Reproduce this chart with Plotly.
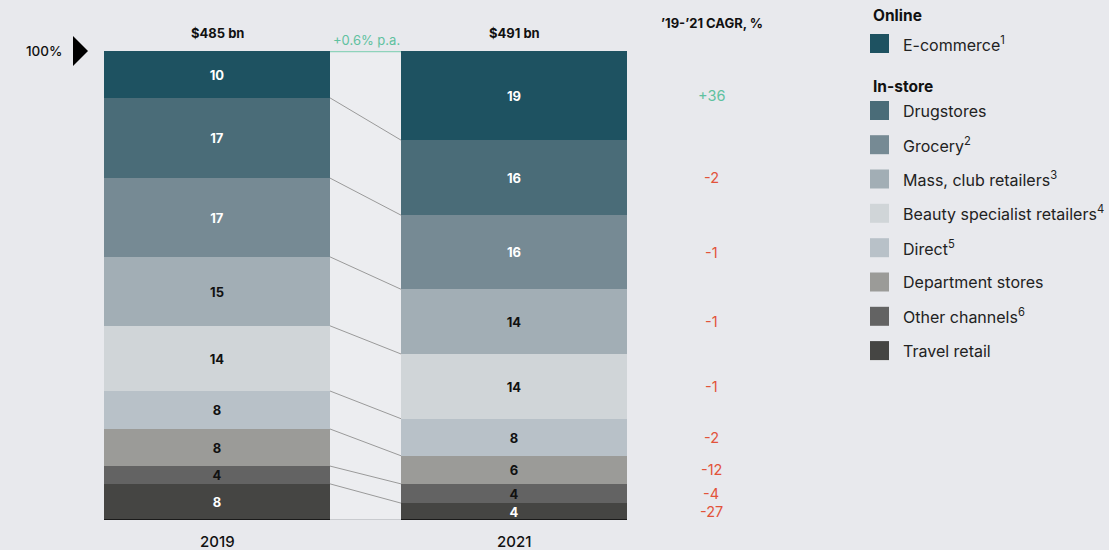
import plotly.graph_objects as go

# ---------------------------
# Data (shares in %, bottom -> top)
# ---------------------------
channels = ["Travel retail", "Other channels", "Department stores", "Direct",
            "Beauty specialist retailers", "Mass, club retailers", "Grocery",
            "Drugstores", "E-commerce"]
legend_labels = ["Travel retail", "Other channels<sup>6</sup>", "Department stores",
                 "Direct<sup>5</sup>", "Beauty specialist retailers<sup>4</sup>",
                 "Mass, club retailers<sup>3</sup>", "Grocery<sup>2</sup>",
                 "Drugstores", "E-commerce<sup>1</sup>"]
share_2019 = [7.7, 3.8, 7.9, 8.1, 13.9, 14.7, 16.8, 17.1, 10.0]
share_2021 = [3.6, 4.1, 6.0, 7.9, 13.8, 13.8, 15.8, 16.0, 19.0]
label_2019 = ["8", "4", "8", "8", "14", "15", "17", "17", "10"]
label_2021 = ["4", "4", "6", "8", "14", "14", "16", "16", "19"]
cagr = ["-27", "-4", "-12", "-2", "-1", "-1", "-1", "-2", "+36"]
years = ["2019", "2021"]
totals = ["$485 bn", "$491 bn"]
growth_label = "+0.6% p.a."

colors = ["#454543", "#636363", "#9b9b98", "#b8c1c8", "#d0d5d8",
          "#a2aeb5", "#768a94", "#4a6c78", "#1e5261"]
text_colors = ["white", "#111111", "#111111", "#111111", "#111111",
               "#111111", "white", "white", "white"]

BG = "#e8e9ed"
GREEN = "#5fc1a0"
RED = "#e2533a"
FONT = "Inter, Roboto, sans-serif"

# layout geometry (pixels)
W, H = 1109, 550
L, R, T, B = 104, 482, 51, 30
PW, PH = W - L - R, H - T - B
BAR_W = 0.761
X0 = -0.3805
X1 = X0 + PW / 297.0


def px(x):
    return (x - L) / PW


def py(y):
    return (H - B - y) / PH


def note(x, y, text, size, color="#111111", xanchor="center", weight=None):
    font = dict(family=FONT, size=size, color=color)
    if weight:
        font["weight"] = weight
    fig.add_annotation(xref="paper", yref="paper", x=px(x), y=py(y), text=text,
                       showarrow=False, xanchor=xanchor, yanchor="middle", font=font)


fig = go.Figure()

# gap between the bars, slightly lighter
fig.add_shape(type="rect", xref="x", yref="y", x0=BAR_W / 2, x1=1 - BAR_W / 2,
              y0=0, y1=100, fillcolor="#ecedf0", line_width=0, layer="below")

for i, ch in enumerate(channels):
    fig.add_trace(go.Bar(
        x=[0, 1], y=[share_2019[i], share_2021[i]],
        width=BAR_W, name=ch,
        marker=dict(color=colors[i], line_width=0),
        text=[label_2019[i], label_2021[i]],
        textposition="inside", insidetextanchor="middle", textangle=0,
        constraintext="none",
        textfont=dict(family=FONT, size=13, color=text_colors[i], weight="bold"),
        hoverinfo="name+y",
    ))

# connector lines between segment boundaries
c19, c21 = 0.0, 0.0
for i in range(len(channels) - 1):
    c19 += share_2019[i]
    c21 += share_2021[i]
    fig.add_shape(type="line", xref="x", yref="y",
                  x0=BAR_W / 2, x1=1 - BAR_W / 2, y0=c19, y1=c21,
                  line=dict(color="#9a9a9a", width=1))

# baseline
fig.add_shape(type="line", xref="x", yref="y", x0=-BAR_W / 2, x1=BAR_W / 2, y0=0, y1=0,
              line=dict(color="#1a1a1a", width=2))
fig.add_shape(type="line", xref="x", yref="y", x0=1 - BAR_W / 2, x1=1 + BAR_W / 2, y0=0, y1=0,
              line=dict(color="#1a1a1a", width=2))
fig.add_shape(type="line", xref="x", yref="y", x0=BAR_W / 2, x1=1 - BAR_W / 2, y0=0, y1=0,
              line=dict(color="#c9cbcf", width=2))

# growth line on top of the gap
fig.add_shape(type="line", xref="x", yref="y", x0=BAR_W / 2, x1=1 - BAR_W / 2, y0=100, y1=100,
              line=dict(color="#8fd3bb", width=2.5))
note(366, 40, growth_label, 13, GREEN)

# totals and years
for j, cx in enumerate([217, 514]):
    note(cx, 33, f"<b>{totals[j]}</b>", 13)
    note(cx, 541, years[j], 15, weight=500)

# 100% marker
note(44, 51, "100%", 13.5, weight=500)
fig.add_shape(type="path", xref="paper", yref="paper",
              path=f"M {px(73)},{py(36)} L {px(88)},{py(51)} L {px(73)},{py(66)} Z",
              fillcolor="black", line_width=0)

# CAGR column
note(712, 23, "<b>’19-’21 CAGR, %</b>", 13)
c21 = 0.0
for i in range(len(channels)):
    mid = c21 + share_2021[i] / 2
    c21 += share_2021[i]
    mid_px = (H - B) - mid / 100.0 * PH
    note(711, mid_px, cagr[i], 14.5, GREEN if cagr[i].startswith("+") else RED)

# custom legend
note(871, 15, "<b>Online</b>", 15.5, xanchor="left")
note(871, 86, "<b>In-store</b>", 15.5, xanchor="left")
legend_y = [43.5, 110.5, 144.7, 179.0, 213.3, 247.7, 282.0, 316.3, 350.6]
order = list(range(len(channels)))[::-1]
for k, i in enumerate(order):
    cy = legend_y[k]
    fig.add_shape(type="rect", xref="paper", yref="paper",
                  x0=px(870), x1=px(889), y0=py(cy - 9.5), y1=py(cy + 9.5),
                  fillcolor=colors[i], line_width=0)
    note(901, cy, legend_labels[i], 16, "#222222", xanchor="left")

fig.update_layout(
    width=W, height=H,
    barmode="stack", bargap=0,
    showlegend=False,
    paper_bgcolor=BG, plot_bgcolor=BG,
    margin=dict(l=L, r=R, t=T, b=B),
    xaxis=dict(range=[X0, X1], visible=False, fixedrange=True),
    yaxis=dict(range=[0, 100], visible=False, fixedrange=True),
    font=dict(family=FONT),
)

fig.write_html("out.html", config={"displayModeBar": False},
               post_script="document.body.style.margin='0';")
